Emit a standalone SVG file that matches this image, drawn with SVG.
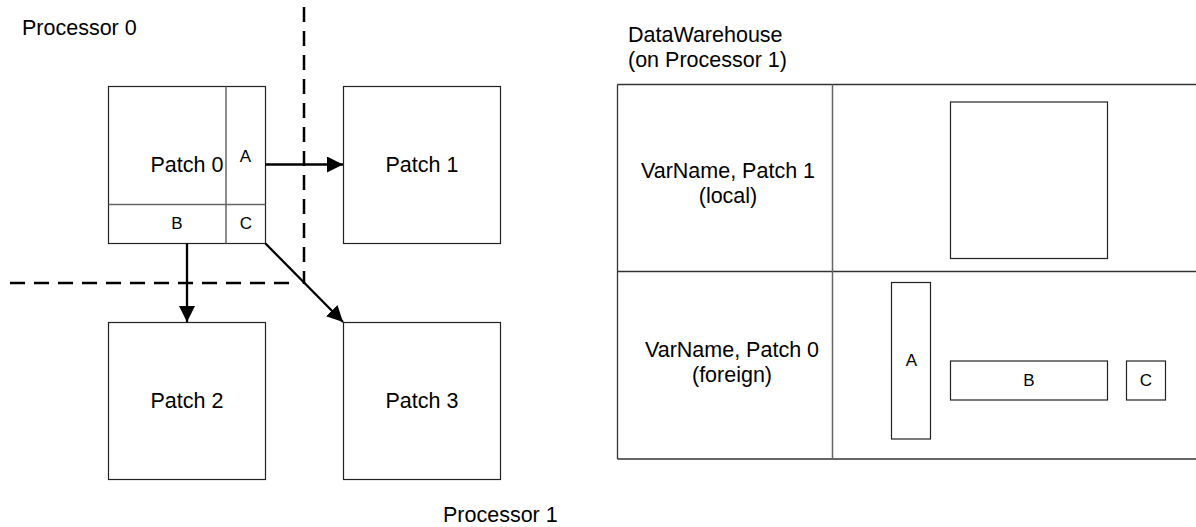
<svg xmlns="http://www.w3.org/2000/svg" width="1196" height="527" viewBox="0 0 1196 527">
<style>
text{font-family:"Liberation Sans",Arial,sans-serif;fill:#000}
.big{font-size:21.5px}
.sm{font-size:17px}
.mid{text-anchor:middle}
.box{fill:#fff;stroke:#222;stroke-width:1.2}
.div{fill:none;stroke:#666;stroke-width:1.5}
.tbl{fill:none;stroke:#333;stroke-width:1.3}
.dash{fill:none;stroke:#000;stroke-width:2.5;stroke-dasharray:15 9}
.arr{fill:none;stroke:#000;stroke-width:2.3;marker-end:url(#ah)}
</style>
<defs>
<marker id="ah" viewBox="0 0 10 10" refX="10" refY="5" markerUnits="userSpaceOnUse" markerWidth="16" markerHeight="16" orient="auto">
<path d="M0,0 L10,5 L0,10 Z" fill="#000"/>
</marker>
</defs>
<rect width="1196" height="527" fill="#fff"/>
<text class="big" x="22" y="35">Processor 0</text>
<text class="big" x="443" y="522">Processor 1</text>
<g id="dashes">
<line class="dash" x1="304" y1="7" x2="304" y2="284"/>
<line class="dash" x1="10" y1="283" x2="298" y2="283"/>
</g>
<g id="patch0">
<rect class="box" x="108.5" y="86.5" width="157" height="157"/>
<line class="div" x1="226" y1="86.5" x2="226" y2="243.5"/>
<line class="div" x1="108.5" y1="204.5" x2="265.5" y2="204.5"/>
<text class="big mid" x="187" y="172">Patch 0</text>
<text class="sm mid" x="245.5" y="161.5">A</text>
<text class="sm mid" x="177" y="229">B</text>
<text class="sm mid" x="246" y="229">C</text>
</g>
<g id="patch1">
<rect class="box" x="343.5" y="86.5" width="157" height="157"/>
<text class="big mid" x="422" y="172">Patch 1</text>
</g>
<g id="patch2">
<rect class="box" x="108.5" y="322.5" width="157" height="157"/>
<text class="big mid" x="187" y="408">Patch 2</text>
</g>
<g id="patch3">
<rect class="box" x="343.5" y="322.5" width="157" height="157"/>
<text class="big mid" x="422" y="408">Patch 3</text>
</g>
<g id="connectors">
<line class="arr" x1="265" y1="164.5" x2="343" y2="164.5"/>
<line class="arr" x1="187" y1="243.5" x2="187" y2="322"/>
<line class="arr" x1="265.5" y1="243.5" x2="343" y2="322"/>
</g>
<g id="datawarehouse">
<text class="big" x="628" y="42">DataWarehouse</text>
<text class="big" x="628" y="67">(on Processor 1)</text>
<line class="tbl" x1="617.5" y1="84.5" x2="1196" y2="84.5"/>
<line class="tbl" x1="617.5" y1="459" x2="1196" y2="459"/>
<line class="tbl" x1="617.5" y1="84.5" x2="617.5" y2="459"/>
<line class="tbl" x1="617.5" y1="271.5" x2="1196" y2="271.5"/>
<line class="div" x1="832.5" y1="84.5" x2="832.5" y2="459"/>
</g>
<g id="row-local">
<text class="big mid" x="728" y="178">VarName, Patch 1</text>
<text class="big mid" x="728" y="203">(local)</text>
<rect class="box" x="950.5" y="102" width="157" height="156.5"/>
</g>
<g id="row-foreign">
<text class="big mid" x="732" y="357">VarName, Patch 0</text>
<text class="big mid" x="732" y="382">(foreign)</text>
<rect class="box" x="891.5" y="282.5" width="39" height="156.5"/>
<text class="sm mid" x="911.5" y="366">A</text>
<rect class="box" x="950.5" y="361" width="157" height="39"/>
<text class="sm mid" x="1029" y="386">B</text>
<rect class="box" x="1126.5" y="361" width="39" height="39"/>
<text class="sm mid" x="1146" y="386">C</text>
</g>
</svg>
